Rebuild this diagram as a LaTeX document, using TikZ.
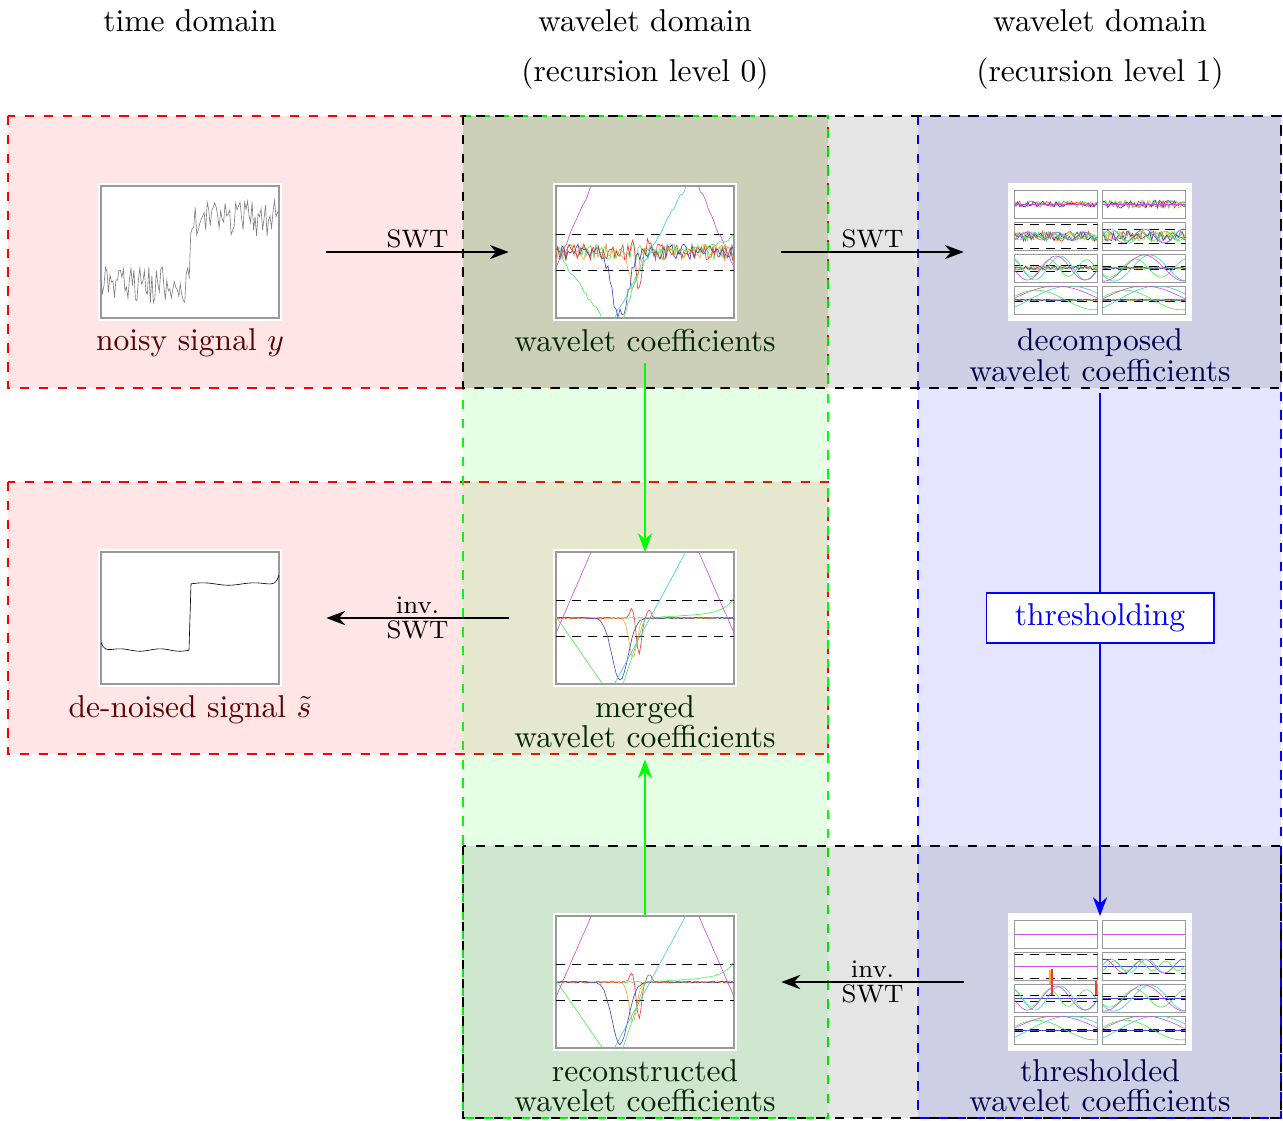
\documentclass[tikz,border=0pt]{standalone}
\usetikzlibrary{positioning,arrows.meta}

\definecolor{cmag}{RGB}{205,80,220}
\definecolor{ccyan}{RGB}{70,205,210}
\definecolor{cgreen}{RGB}{80,235,80}
\definecolor{cblue}{RGB}{70,70,190}
\definecolor{corange}{RGB}{255,170,50}
\definecolor{cred}{RGB}{240,60,50}

\tikzset{
  zone/.style={draw=#1,fill=#1,fill opacity=0.1,dashed,semithick},
  plotbox/.style={draw=gray!80,fill=white,thin,minimum width=56.4pt,minimum height=41.8pt,
    inner sep=0pt,outer sep=0pt,preaction={draw=white,line width=2pt}},
  gridbox/.style={plotbox,draw=white},
  lab/.style={align=center,text=#1},
  head/.style={align=center,anchor=north,inner sep=0pt},
  conn/.style={-{Stealth[length=6pt,width=4.5pt]},semithick,shorten <=15pt,shorten >=15pt},
  link/.style={-{Stealth[length=6pt,width=4.5pt]},semithick},
  thr/.style={densely dashed,very thin,black},
}

% wavelet coefficients of level 0, #2 = noise
\newcommand{\coefs}[2]{%
  \begin{scope}[shift={(#1.center)},yscale=-1]
    \clip (-89,-66) rectangle (89,66);
    \draw[thr] (-89,18) -- (89,18) (-89,-18) -- (89,-18);
    \draw[cgreen,very thin] plot[domain=-89:89,samples=90] (\x,{#2*rand});
    \draw[corange,very thin] plot[domain=-89:89,samples=90]
      (\x,{-40*exp(-(\x+12)*(\x+12)/30)+#2*rand});
    \draw[cred,very thin] plot[domain=-89:89,samples=110]
      (\x,{-36*exp(-(\x+6)*(\x+6)/12)+10*exp(-(\x+13)*(\x+13)/9)+8*exp(-(\x-4)*(\x-4)/9)+#2*rand});
    \draw[cblue,very thin] plot[domain=-89:89,samples=90]
      (\x,{-62*exp(-(\x+25)*(\x+25)/130)+#2*rand});
    \draw[cgreen,very thin] plot[domain=-89:89,samples=90]
      (\x,{ifthenelse(\x<-30,-1.45*(\x+88),ifthenelse(\x<0,3*\x,0.06*\x+15*exp((\x-89)/10)))+0.3*#2*rand});
    \draw[ccyan,very thin] plot[domain=-50:60,samples=50] (\x,{1.85*(\x-5)+0.3*#2*rand});
    \draw[cmag,very thin] plot[domain=-89:89,samples=70] (\x,{2.3*(86-abs(\x))-8+0.3*#2*rand});
  \end{scope}}

% one panel of level 1: x, y, noise, amplitude, frequency, threshold
\newcommand{\wpanel}[6]{%
  \begin{scope}[shift={(#1,#2)}]
    \draw[gray!80,very thin,fill=white] (-41.5,-14) rectangle (41.5,14);
    \begin{scope}
      \clip (-41.5,-14) rectangle (41.5,14);
      \draw[thr] (-42,#6) -- (42,#6) (-42,-#6) -- (42,-#6);
      \foreach \c in {cred,corange,cgreen,cblue}
        \draw[\c,very thin] plot[domain=-42:42,samples=45] (\x,{#3*rand});
      \draw[ccyan,very thin] plot[domain=-42:42,samples=40] (\x,{#4*sin(#5*\x+60)});
      \draw[cgreen,very thin] plot[domain=-42:42,samples=40] (\x,{0.7*#4*sin(1.4*#5*\x+150)});
      \draw[cmag,very thin] plot[domain=-42:42,samples=40] (\x,{#4*cos(0.9*#5*\x)});
    \end{scope}
  \end{scope}}

\begin{document}
\begin{tikzpicture}[x=0.317pt,y=-0.317pt]
\pgfmathsetseed{7}
\useasboundingbox (0,0) rectangle (1283,1120);

% zones
\draw[zone=red] (8,116) rectangle (828,388);
\draw[zone=red] (8,482) rectangle (828,754);
\draw[zone=green] (463,116) rectangle (828,1118);
\draw[zone=blue] (918,116) rectangle (1281,1118);
\draw[zone=black] (463,116) rectangle (1281,388);
\draw[zone=black] (463,846) rectangle (1281,1118);

% headings
\node[head] (h0) at (190,9) {time domain};
\node[head] (h1) at (645,9) {wavelet domain\\[3.9pt](recursion level 0)};
\node[head] (h2) at (1100,9) {wavelet domain\\[3.9pt](recursion level 1)};

% pictures
\node[plotbox] (noisy) at (190,252) {};
\node[plotbox] (coef) at (645,252) {};
\node[gridbox] (dec) at (1100,252) {};
\node[plotbox] (den) at (190,618) {};
\node[plotbox] (merg) at (645,618) {};
\node[plotbox] (rec) at (645,982) {};
\node[gridbox] (thrc) at (1100,982) {};
\node[draw=blue,semithick,fill=white,text=blue,minimum width=72pt,minimum height=13.6pt] (thresh) at (1100,618) {thresholding};

\begin{scope}[shift={(noisy.center)},yscale=-1]
  \clip (-89,-66) rectangle (89,66);
  \draw[gray,very thin] plot[domain=-89:89,samples=120] (\x,{ifthenelse(\x<0,-33,34)+18*rand});
\end{scope}
\begin{scope}[shift={(den.center)},yscale=-1]
  \clip (-89,-66) rectangle (89,66);
  \draw[black,very thin] plot[smooth,domain=-89:-1,samples=40] (\x,{-32+9*exp(-(\x+89)/3)+1.2*sin(9*\x)})
    -- plot[smooth,domain=1:89,samples=40] (\x,{34+1.2*sin(7*\x)+10*exp((\x-89)/3)});
\end{scope}

\coefs{coef}{8}
\coefs{merg}{0.6}
\coefs{rec}{0.9}

\begin{scope}[shift={(dec.center)},yscale=-1]
  \wpanel{-44}{48}{3}{0}{1}{30}
  \wpanel{44}{48}{4}{0}{1}{30}
  \wpanel{-44}{16}{5}{4}{14}{12}
  \wpanel{44}{16}{5}{7}{10}{7}
  \wpanel{-44}{-16}{2}{12}{7}{3}
  \wpanel{44}{-16}{1}{13}{5}{1.5}
  \wpanel{-44}{-48}{0.7}{14}{2.2}{1}
  \wpanel{44}{-48}{0.7}{14}{2.3}{1}
\end{scope}
\begin{scope}[shift={(thrc.center)},yscale=-1]
  \wpanel{-44}{48}{0}{0}{1}{30}
  \wpanel{44}{48}{0}{0}{1}{30}
  \wpanel{-44}{16}{0}{0}{1}{12}
  \wpanel{44}{16}{0}{7}{10}{7}
  \wpanel{-44}{-16}{0}{12}{7}{3}
  \wpanel{44}{-16}{0}{13}{5}{1.5}
  \wpanel{-44}{-48}{0}{14}{2.2}{1}
  \wpanel{44}{-48}{0}{14}{2.3}{1}
  \draw[corange] (-50,12) -- (-50,-2);
  \draw[cred] (-48,13) -- (-48,-13);
  \draw[cred] (-4,1) -- (-4,-13);
\end{scope}

% labels
\node[lab=red!35!black,below=0pt of noisy] (noisylab) {noisy signal $y$};
\node[lab=green!15!black,below=0pt of coef] (coeflab) {wavelet coefficients};
\node[lab=blue!30!black,below=0pt of dec] (declab) {decomposed\\[-2.2pt]wavelet coefficients};
\node[lab=red!35!black,below=0pt of den] (denlab) {de-noised signal $\tilde{s}$};
\node[lab=green!15!black,below=0pt of merg] (merglab) {merged\\[-2.2pt]wavelet coefficients};
\node[lab=green!15!black,below=0pt of rec] (reclab) {reconstructed\\[-2.2pt]wavelet coefficients};
\node[lab=blue!30!black,below=0pt of thrc] (thrlab) {thresholded\\[-2.2pt]wavelet coefficients};

% connectors
\draw[conn] (noisy) -- node[above,inner sep=1pt,font=\footnotesize] {SWT} (coef);
\draw[conn] (coef) -- node[above,inner sep=1pt,font=\footnotesize] {SWT} (dec);
\draw[conn] (merg) -- node[align=center,font=\footnotesize] {inv.\\[-1.5pt]SWT} (den);
\draw[conn] (thrc) -- node[align=center,font=\footnotesize] {inv.\\[-1.5pt]SWT} (rec);
\draw[link,green] (coeflab) -- (merg);
\draw[link,green] (rec) -- (merglab);
\draw[semithick,blue] (declab) -- (thresh);
\draw[link,blue] (thresh) -- (thrc);
\end{tikzpicture}
\end{document}
